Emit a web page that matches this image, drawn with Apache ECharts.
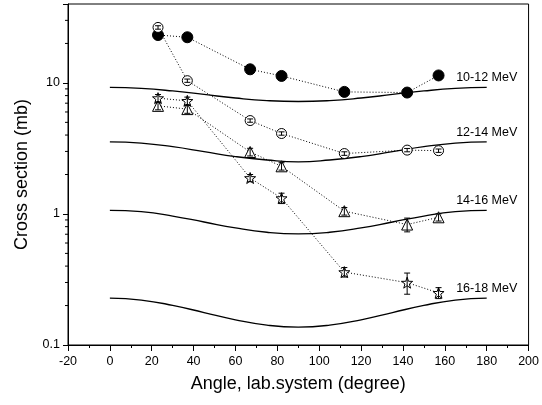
<!DOCTYPE html>
<html>
<head>
<meta charset="utf-8">
<script src="https://cdn.jsdelivr.net/npm/echarts@6/dist/echarts.min.js"></script>
<style>html,body{margin:0;padding:0;background:#fff}#c{width:542px;height:405px}</style>
</head>
<body>
<div id="c"></div>
<script>
// ---- data ----
const angles = [23, 37, 67, 82, 112, 142, 157];
const cs10_12 = [23.2, 22.3, 12.7, 11.3, 8.54, 8.44, 11.4];
const cs12_14 = [26.5, 10.4, 5.16, 4.11, 2.89, 3.07, 3.04];
const cs14_16 = [6.68, 6.31, 2.97, 2.31, 1.05, 0.83, 0.943];
const cs16_18 = [7.65, 7.29, 1.88, 1.32, 0.36, 0.299, 0.25];
const err10_12 = [0.6, 0.6, 0.3, 0.3, 0.2, 0.2, 0.3];
const err12_14 = [0.8, 0.3, 0.15, 0.12, 0.09, 0.09, 0.09];
const err14_16 = [0.45, 0.45, 0.2, 0.15, 0.07, 0.1, 0.06];
const err16_18 = [0.5, 0.5, 0.12, 0.12, 0.03, 0.055, 0.024];

const curveAngles = [0, 15, 30, 45, 60, 75, 90, 105, 120, 135, 150, 165, 180];
const curve10_12 = [9.24, 9.08, 8.68, 8.16, 7.67, 7.33, 7.21, 7.33, 7.67, 8.16, 8.68, 9.08, 9.24];
const curve12_14 = [3.55, 3.47, 3.26, 2.99, 2.74, 2.58, 2.50, 2.58, 2.74, 2.99, 3.26, 3.47, 3.55];
const curve14_16 = [1.066, 1.040, 0.964, 0.868, 0.782, 0.725, 0.705, 0.725, 0.782, 0.868, 0.964, 1.040, 1.066];
const curve16_18 = [0.228, 0.2203, 0.2007, 0.1768, 0.1557, 0.1418, 0.137, 0.1418, 0.1557, 0.1768, 0.2007, 0.2203, 0.228];
const curveLabels = ['10-12 MeV', '12-14 MeV', '14-16 MeV', '16-18 MeV'];

const xTicks = { min: -20, max: 200, interval: 20 };
const yRange = { min: 0.1, max: 40 };
const yMinorTicks = [0.2, 0.3, 0.4, 0.5, 0.6, 0.7, 0.8, 0.9, 2, 3, 4, 5, 6, 7, 8, 9, 20, 30];

const xTitle = 'Angle, lab.system (degree)';
const yTitle = 'Cross section (mb)';

// ---- chart ----
const FONT = '"Liberation Sans", Arial, sans-serif';
const STAR = 'path://M0,-10 L2.35,-3.24 L9.51,-3.09 L3.8,1.24 L5.88,8.09 L0,4 L-5.88,8.09 L-3.8,1.24 L-9.51,-3.09 L-2.35,-3.24 Z';

function pts(vals) { return angles.map((a, i) => [a, vals[i]]); }

function dataSeries(vals, symbol, size, fill, z) {
  return {
    type: 'line', data: pts(vals), symbol: symbol, symbolSize: size, showAllSymbol: true,
    lineStyle: { color: '#000', width: 1, type: [1, 2] },
    itemStyle: { color: fill, borderColor: '#000', borderWidth: 1 },
    z: z, silent: true, animation: false
  };
}

function errSeries(vals, errs, z) {
  return {
    type: 'custom', z: z, silent: true, animation: false, clip: false,
    data: angles.map((a, i) => [a, vals[i] - errs[i], vals[i] + errs[i]]),
    encode: { x: 0, y: [1, 2] },
    renderItem: function (params, api) {
      const lo = api.coord([api.value(0), api.value(1)]);
      const hi = api.coord([api.value(0), api.value(2)]);
      const w = 3;
      const st = { stroke: '#000', lineWidth: 1 };
      return { type: 'group', children: [
        { type: 'line', shape: { x1: lo[0], y1: lo[1], x2: hi[0], y2: hi[1] }, style: st },
        { type: 'line', shape: { x1: lo[0] - w, y1: lo[1], x2: lo[0] + w, y2: lo[1] }, style: st },
        { type: 'line', shape: { x1: hi[0] - w, y1: hi[1], x2: hi[0] + w, y2: hi[1] }, style: st }
      ]};
    }
  };
}

function curveSeries(vals, label) {
  const n = curveAngles.length;
  return {
    type: 'line', smooth: true, symbol: 'circle', symbolSize: 0, showSymbol: true, showAllSymbol: true,
    silent: true, animation: false, z: 2,
    lineStyle: { color: '#000', width: 1.3 },
    itemStyle: { color: 'transparent', borderWidth: 0 },
    label: { show: false },
    data: curveAngles.map((a, i) => {
      const d = { value: [a, vals[i]] };
      if (i === n - 1) {
        d.label = { show: true, position: 'top', distance: 3, formatter: label,
          color: '#000', fontSize: 12.5, fontFamily: FONT };
      }
      return d;
    })
  };
}

const minorTickSeries = {
  type: 'custom', silent: true, animation: false, clip: false, z: 10,
  data: yMinorTicks.map(v => [xTicks.min, v]),
  renderItem: function (params, api) {
    const p = api.coord([api.value(0), api.value(1)]);
    return { type: 'line', shape: { x1: p[0] - 3, y1: p[1], x2: p[0], y2: p[1] },
      style: { stroke: '#000', lineWidth: 1 } };
  }
};

const chart = echarts.init(document.getElementById('c'), null, { renderer: 'canvas' });
chart.setOption({
  backgroundColor: '#fff',
  animation: false,
  grid: { left: 68, right: 11, top: 4, bottom: 60, show: true, borderColor: '#000', borderWidth: 1, backgroundColor: 'transparent' },
  xAxis: {
    type: 'value', min: xTicks.min, max: xTicks.max, interval: xTicks.interval,
    name: xTitle, nameLocation: 'middle', nameGap: 30,
    nameTextStyle: { fontSize: 18, fontFamily: FONT, color: '#000' },
    axisLine: { show: true, onZero: false, lineStyle: { color: '#000', width: 1 } },
    axisTick: { show: true, length: 6, lineStyle: { color: '#000' } },
    minorTick: { show: true, splitNumber: 2, length: 3, lineStyle: { color: '#000' } },
    axisLabel: { fontSize: 12.5, fontFamily: FONT, color: '#000', margin: 10 },
    splitLine: { show: false }
  },
  yAxis: {
    type: 'log', logBase: 10, min: yRange.min, max: yRange.max,
    name: yTitle, nameLocation: 'middle', nameGap: 37,
    nameTextStyle: { fontSize: 18, fontFamily: FONT, color: '#000' },
    axisLine: { show: true, onZero: false, lineStyle: { color: '#000', width: 1 } },
    axisTick: { show: true, length: 5, lineStyle: { color: '#000' } },
    axisLabel: { fontSize: 12.5, fontFamily: FONT, color: '#000', margin: 8,
      formatter: function (v) {
        const l = Math.log10(v);
        if (Math.abs(l - Math.round(l)) < 1e-6 && v <= 10.0001) return String(+v.toPrecision(3));
        return '';
      } },
    splitLine: { show: false }
  },
  series: [
    curveSeries(curve10_12, curveLabels[0]),
    curveSeries(curve12_14, curveLabels[1]),
    curveSeries(curve14_16, curveLabels[2]),
    curveSeries(curve16_18, curveLabels[3]),
    dataSeries(cs10_12, 'circle', 11, '#000', 5),
    errSeries(cs10_12, err10_12, 4),
    dataSeries(cs12_14, 'circle', 10, '#fff', 6),
    errSeries(cs12_14, err12_14, 7),
    dataSeries(cs14_16, 'triangle', 11, '#fff', 6),
    errSeries(cs14_16, err14_16, 7),
    dataSeries(cs16_18, STAR, 11, '#fff', 6),
    errSeries(cs16_18, err16_18, 7),
    minorTickSeries
  ]
});
</script>
</body>
</html>
